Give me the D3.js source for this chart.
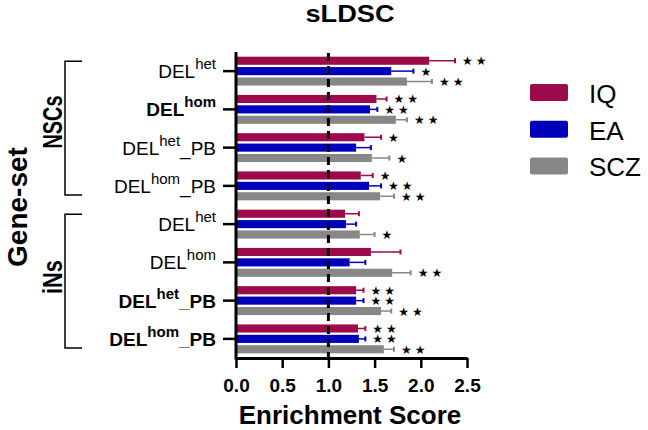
<!DOCTYPE html>
<html>
<head>
<meta charset="utf-8">
<script src="https://cdn.jsdelivr.net/npm/d3@7"></script>
<style>
  body { margin: 0; background: #fff; }
  svg { font-family: "Liberation Sans", Arial, sans-serif; }
</style>
</head>
<body>
<div id="chart"></div>
<script>
// gene-set rows, top to bottom
const cellTypes = ["NSCs", "NSCs", "NSCs", "NSCs", "iNs", "iNs", "iNs", "iNs"];
const delTypes = ["het", "hom", "het", "hom", "het", "hom", "het", "hom"];
const pbSets = [false, false, true, true, false, false, true, true];

const series = ["IQ", "EA", "SCZ"];
const iqValues = [2.09, 1.52, 1.39, 1.35, 1.18, 1.46, 1.30, 1.32];
const iqErrors = [0.28, 0.11, 0.18, 0.13, 0.15, 0.32, 0.08, 0.08];
const iqStars = ["**", "**", "*", "*", "", "", "**", "**"];
const eaValues = [1.68, 1.45, 1.30, 1.44, 1.19, 1.23, 1.30, 1.33];
const eaErrors = [0.24, 0.08, 0.16, 0.13, 0.11, 0.17, 0.08, 0.07];
const eaStars = ["*", "**", "", "**", "", "", "**", "**"];
const sczValues = [1.85, 1.73, 1.47, 1.56, 1.34, 1.69, 1.57, 1.60];
const sczErrors = [0.27, 0.12, 0.19, 0.15, 0.16, 0.20, 0.11, 0.11];
const sczStars = ["**", "**", "*", "**", "*", "**", "**", "**"];

const xTicks = [0, 0.5, 1.0, 1.5, 2.0, 2.5];

const colors = { IQ: "#9c0a4c", EA: "#0000bb", SCZ: "#878787" };
const boldRows = [1, 6, 7];

const width = 648, height = 430;
const svg = d3.select("#chart").append("svg").attr("width", width).attr("height", height);

const rows = d3.range(cellTypes.length);
const x = d3.scaleLinear().domain([0, 2.5]).range([236, 467]);
const y = d3.scaleBand().domain(rows).range([52, 358]).padding(0);
const ySub = d3.scaleBand().domain(series).range([0, y.bandwidth()]).paddingInner(0.22).paddingOuter(0.45);

const table = [];
rows.forEach(i => {
  [[iqValues, iqErrors, iqStars], [eaValues, eaErrors, eaStars], [sczValues, sczErrors, sczStars]].forEach((s, k) => {
    table.push({ row: i, key: series[k], value: s[0][i], err: s[1][i], stars: s[2][i] });
  });
});

// title
svg.append("text")
  .attr("x", 350).attr("y", 22)
  .attr("text-anchor", "middle")
  .attr("font-size", 23).attr("font-weight", "bold")
  .attr("textLength", 89).attr("lengthAdjust", "spacingAndGlyphs")
  .text("sLDSC");

// bars
const cy = d => y(d.row) + ySub(d.key) + ySub.bandwidth() / 2;
svg.append("g").selectAll("rect")
  .data(table)
  .join("rect")
  .attr("x", x(0))
  .attr("y", d => y(d.row) + ySub(d.key))
  .attr("width", d => x(d.value) - x(0))
  .attr("height", ySub.bandwidth())
  .attr("fill", d => colors[d.key]);

// one-sided error bars
const eb = svg.append("g");
eb.selectAll("line.err")
  .data(table)
  .join("line")
  .attr("class", "err")
  .attr("x1", d => x(d.value)).attr("x2", d => x(d.value + d.err))
  .attr("y1", cy).attr("y2", cy)
  .attr("stroke", d => colors[d.key]).attr("stroke-width", 1.5);
eb.selectAll("line.cap")
  .data(table)
  .join("line")
  .attr("class", "cap")
  .attr("x1", d => x(d.value + d.err)).attr("x2", d => x(d.value + d.err))
  .attr("y1", d => cy(d) - 2.5).attr("y2", d => cy(d) + 2.5)
  .attr("stroke", d => colors[d.key]).attr("stroke-width", 2);

// significance stars
svg.append("g").selectAll("text")
  .data(table.filter(d => d.stars))
  .join("text")
  .attr("x", d => x(d.value + d.err) + 7)
  .attr("y", d => cy(d) + 4.5)
  .attr("font-family", "DejaVu Sans, sans-serif")
  .attr("font-size", 12)
  .attr("letter-spacing", 3)
  .text(d => d.stars.replace(/\*/g, "\u2605"));

// reference line at 1
svg.append("line")
  .attr("x1", x(1)).attr("x2", x(1))
  .attr("y1", 53).attr("y2", 358)
  .attr("stroke", "#000").attr("stroke-width", 3)
  .attr("stroke-dasharray", "8,5");

// x axis
const xAxis = svg.append("g")
  .attr("transform", "translate(0,358)")
  .call(d3.axisBottom(x).tickValues(xTicks).tickFormat(d3.format(".1f")).tickSize(10).tickSizeOuter(0).tickPadding(11));
xAxis.select(".domain").attr("stroke-width", 3);
xAxis.selectAll(".tick line").attr("stroke-width", 2.5);
xAxis.selectAll(".tick text")
  .attr("font-size", 19).attr("font-weight", "bold")
  .attr("font-family", "Liberation Sans, Arial, sans-serif").attr("fill", "#000");

// y axis
const yAxis = svg.append("g")
  .attr("transform", `translate(${x(0)},0)`)
  .call(d3.axisLeft(y).tickSize(13).tickSizeOuter(0).tickFormat(""));
yAxis.select(".domain").attr("stroke-width", 3).attr("d", "M0,52V359.5");
yAxis.selectAll(".tick line").attr("stroke-width", 2.5);

// row labels with superscripts
const labels = svg.append("g").selectAll("text")
  .data(rows)
  .join("text")
  .attr("x", 216)
  .attr("y", i => y(i) + y.bandwidth() / 2 + 7)
  .attr("text-anchor", "end")
  .attr("font-size", 19)
  .attr("font-weight", i => boldRows.includes(i) ? "bold" : "normal");
labels.append("tspan").text("DEL");
labels.append("tspan").attr("font-size", 15).attr("dy", -9).text(i => delTypes[i]);
labels.filter(i => pbSets[i]).append("tspan").attr("dy", 9).text("_PB");

// cell type brackets
const groupNames = Array.from(new Set(cellTypes));
groupNames.forEach(g => {
  const idx = rows.filter(i => cellTypes[i] === g);
  const top = y(idx[0]) + y.bandwidth() / 2 - 10;
  const bot = y(idx[idx.length - 1]) + y.bandwidth() / 2 + 9;
  svg.append("path")
    .attr("d", `M82,${top}H65V${bot}H82`)
    .attr("fill", "none").attr("stroke", "#000").attr("stroke-width", 1.5);
  const mid = (top + bot) / 2;
  svg.append("text")
    .attr("transform", `translate(62,${mid + (g === "iNs" ? -4 : -6)}) rotate(-90)`)
    .attr("text-anchor", "middle")
    .attr("font-size", 27).attr("font-weight", "bold")
    .attr("textLength", g === "iNs" ? 34 : 53).attr("lengthAdjust", "spacingAndGlyphs")
    .text(g);
});

svg.append("text")
  .attr("transform", "translate(27,207) rotate(-90)")
  .attr("text-anchor", "middle")
  .attr("font-size", 28).attr("font-weight", "bold")
  .text("Gene-set");

// x axis title
svg.append("text")
  .attr("x", 350).attr("y", 424)
  .attr("text-anchor", "middle")
  .attr("font-size", 26).attr("font-weight", "bold")
  .text("Enrichment Score");

// legend
const legend = svg.append("g").selectAll("g")
  .data(series)
  .join("g")
  .attr("transform", (d, i) => `translate(530,${84 + i * 36.7})`);
legend.append("rect")
  .attr("width", 38).attr("height", 17).attr("rx", 2)
  .attr("fill", d => colors[d]);
legend.append("text")
  .attr("x", 59).attr("y", 19)
  .attr("font-size", 26)
  .text(d => d);
</script>
</body>
</html>
